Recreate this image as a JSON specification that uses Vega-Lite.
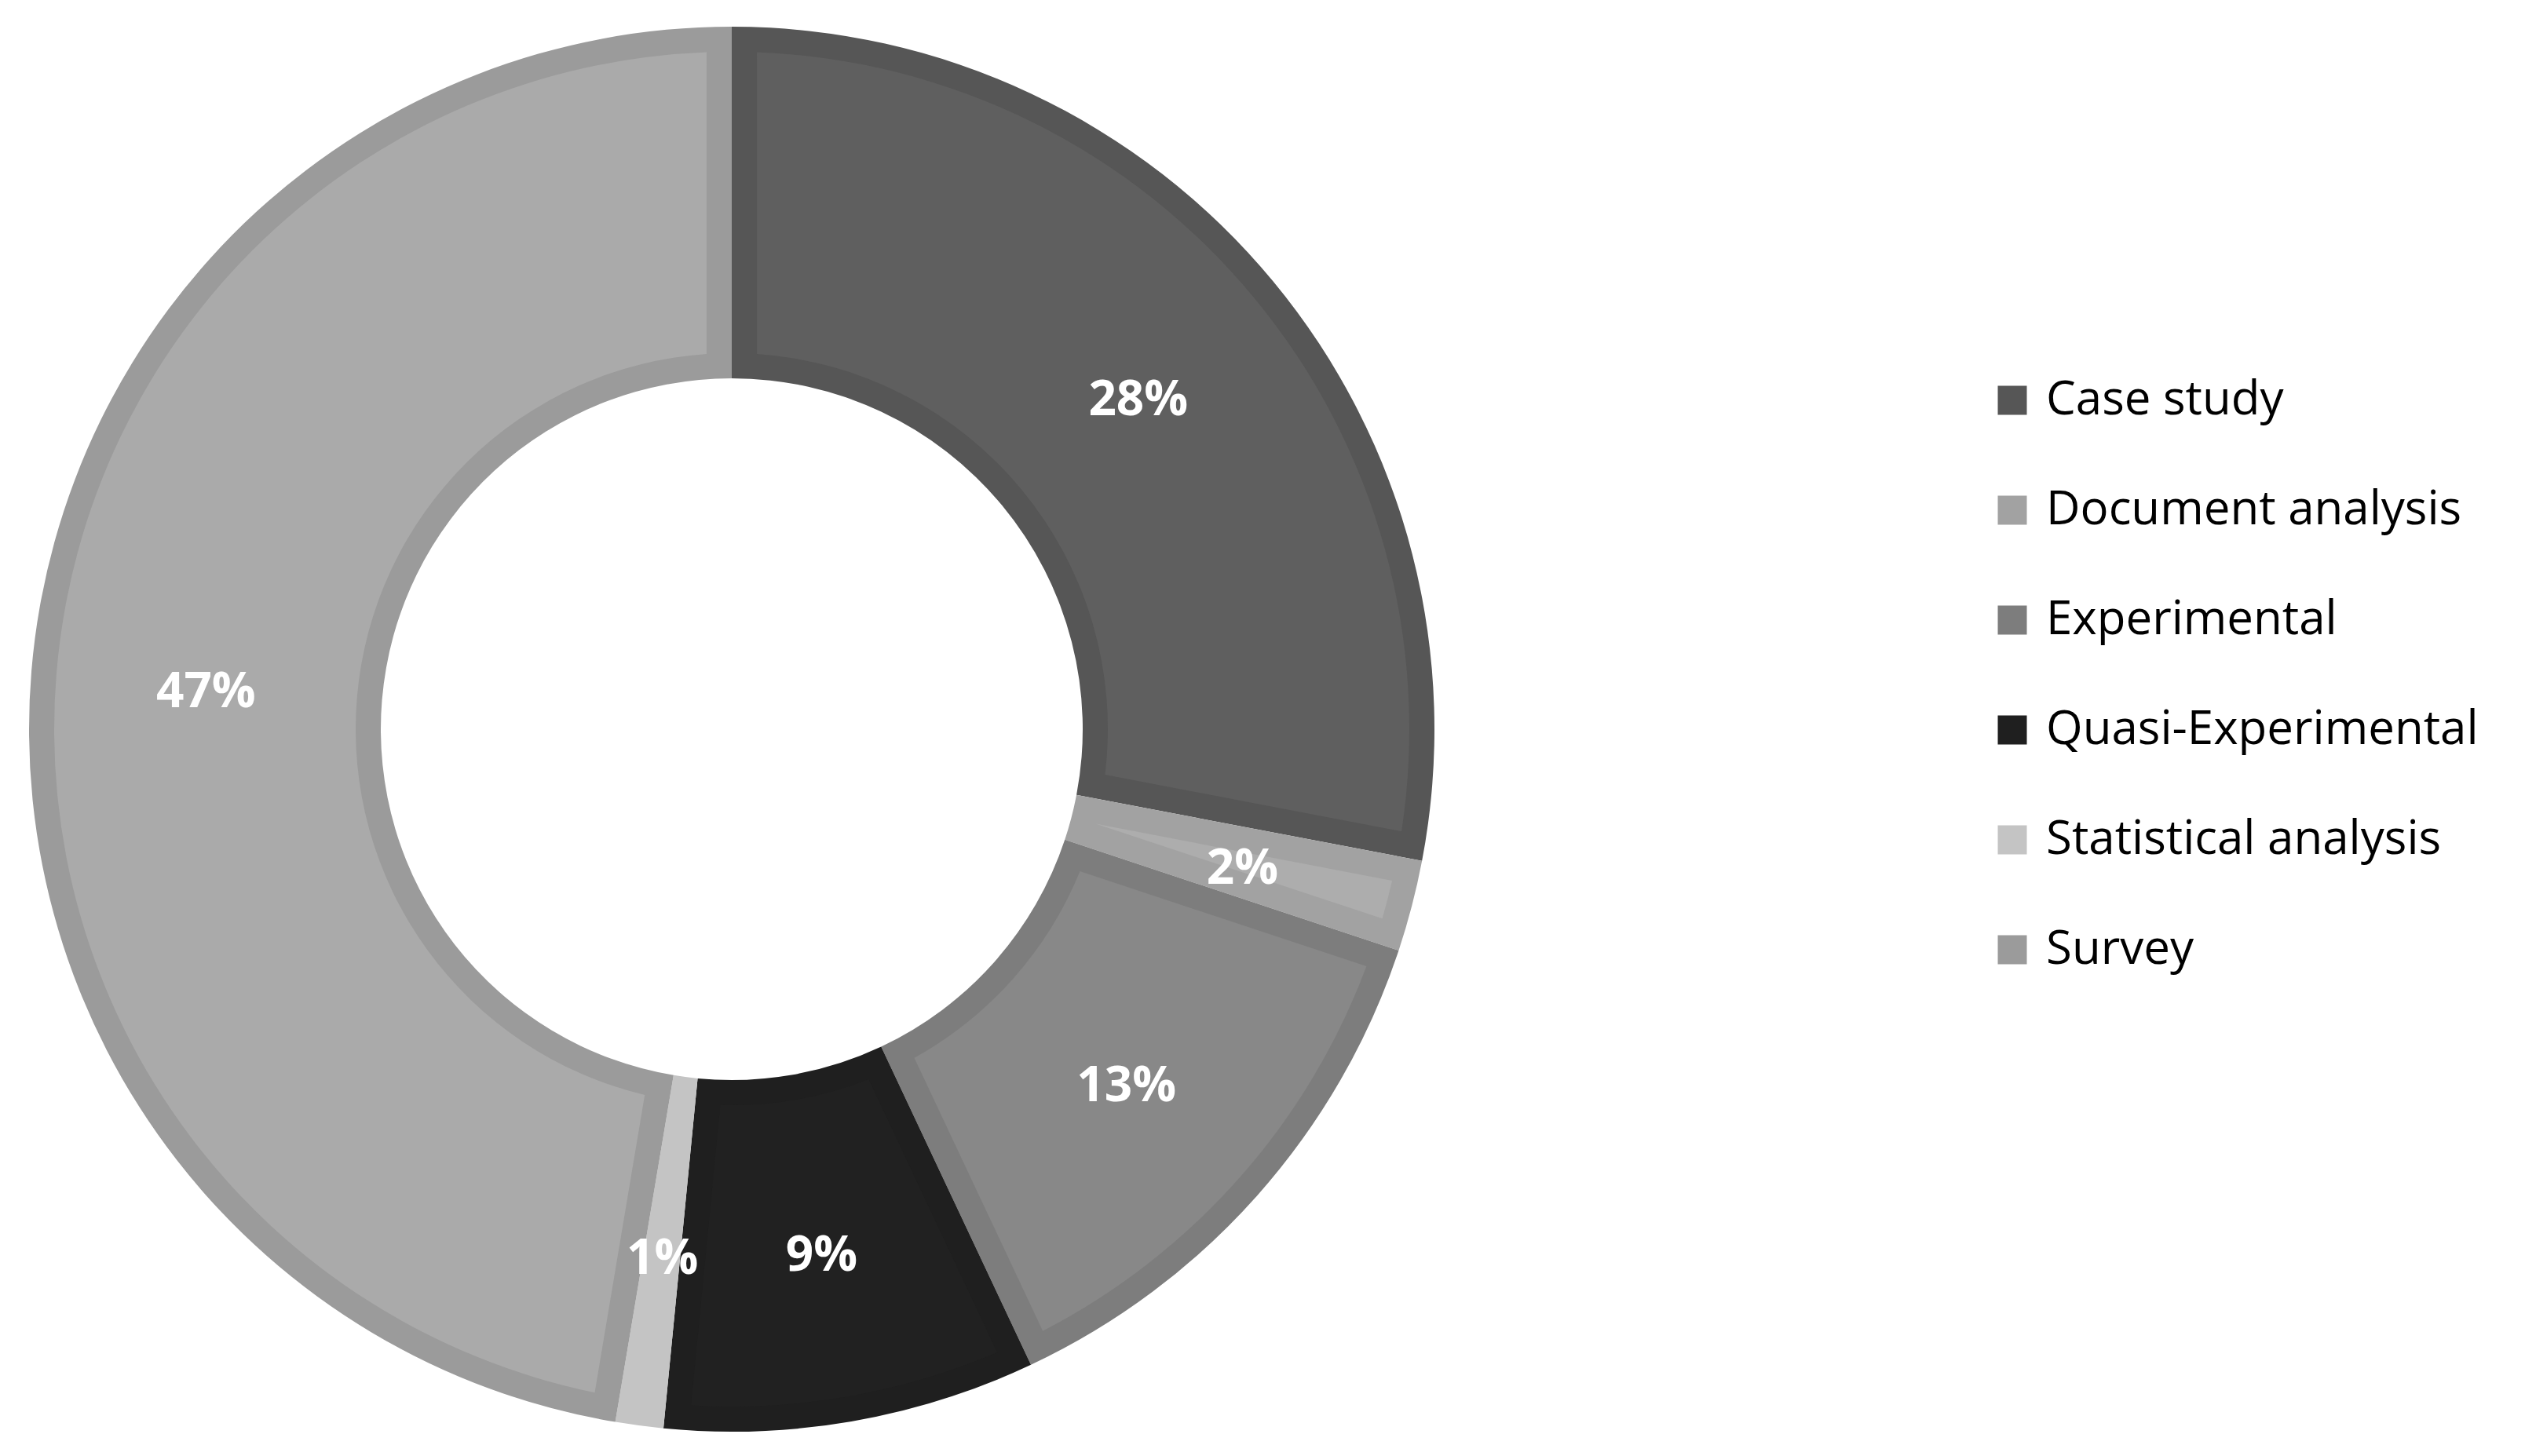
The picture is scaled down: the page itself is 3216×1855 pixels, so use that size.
{
  "$schema": "https://vega.github.io/schema/vega-lite/v6.json",
  "width": 1864,
  "height": 1858,
  "autosize": {"type": "none"},
  "padding": {"left": 0, "top": 0, "right": 1352, "bottom": 0},
  "background": "white",
  "config": {"view": {"stroke": null}},
  "data": {
    "values": [
      {"category": "Case study", "value": 0.28},
      {"category": "Document analysis", "value": 0.021},
      {"category": "Experimental", "value": 0.129},
      {"category": "Quasi-Experimental", "value": 0.0855},
      {"category": "Statistical analysis", "value": 0.011},
      {"category": "Survey", "value": 0.4735}
    ]
  },
  "layer": [
    {
      "mark": {"type": "arc", "outerRadius": 895, "innerRadius": 447},
      "encoding": {
        "theta": {"field": "value", "type": "quantitative", "stack": true},
        "order": {"field": "category", "type": "nominal", "sort": "ascending"},
        "color": {
          "field": "category",
          "type": "nominal",
          "scale": {
            "domain": ["Case study", "Document analysis", "Experimental", "Quasi-Experimental", "Statistical analysis", "Survey"],
            "range": ["#565656", "#a2a2a2", "#7d7d7d", "#1f1f1f", "#c4c4c4", "#9b9b9b"]
          },
          "legend": {
            "title": null,
            "orient": "none",
            "legendX": 2533,
            "legendY": 480,
            "symbolType": "square",
            "symbolSize": 1369,
            "symbolStrokeWidth": 0,
            "labelFont": "Open Sans",
            "labelFontSize": 60,
            "labelColor": "black",
            "labelOffset": 13,
            "rowPadding": 80,
            "padding": 0,
            "labelLimit": 1000
          }
        }
      }
    },
    {
      "mark": {"type": "arc", "outerRadius": 863, "innerRadius": 479, "padAngle": 0.0649},
      "encoding": {
        "theta": {"field": "value", "type": "quantitative", "stack": true},
        "order": {"field": "category", "type": "nominal", "sort": "ascending"},
        "color": {
          "field": "category",
          "type": "nominal",
          "scale": {
            "domain": ["Case study", "Document analysis", "Experimental", "Quasi-Experimental", "Statistical analysis", "Survey"],
            "range": ["#5f5f5f", "#adadad", "#888888", "#212121", "#c4c4c4", "#aaaaaa"]
          },
          "legend": null
        }
      }
    },
    {
      "mark": {"type": "text", "radius": 672, "dy": 9, "font": "Open Sans", "fontWeight": "bold", "fontSize": 62, "color": "white", "align": "center", "baseline": "middle"},
      "encoding": {
        "theta": {"field": "value", "type": "quantitative", "stack": true},
        "order": {"field": "category", "type": "nominal", "sort": "ascending"},
        "text": {"field": "value", "type": "quantitative", "format": ".0%"}
      }
    }
  ],
  "resolve": {"scale": {"color": "independent"}}
}
